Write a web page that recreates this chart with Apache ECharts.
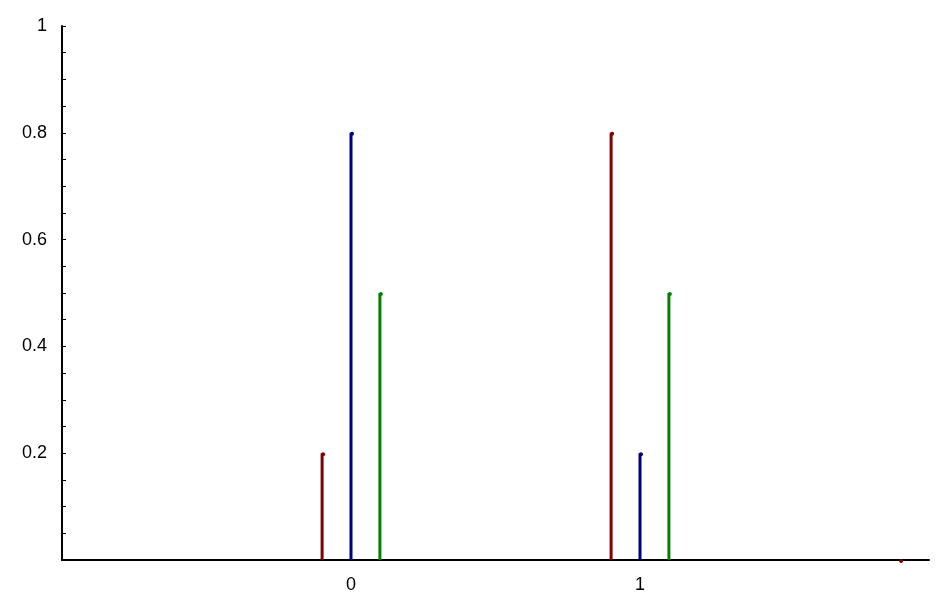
<!DOCTYPE html>
<html>
<head>
  <meta charset="utf-8">
  <title>Stem plot</title>
  <script src="https://cdn.jsdelivr.net/npm/echarts@6.0.0/dist/echarts.min.js"></script>
  <style>
    html, body { margin: 0; padding: 0; background: #fff; }
    #graph { width: 947px; height: 596px; }
  </style>
</head>
<body>
  <div id="graph"></div>

  <script>
    // stem data
    var redX = [-0.1, 0.9, 1.9];
    var redY = [0.2, 0.8, 0];
    var blueX = [0, 1];
    var blueY = [0.8, 0.2];
    var greenX = [0.1, 1.1];
    var greenY = [0.5, 0.5];

    var xLabels = [0, 1];
    var yLabels = [0.2, 0.4, 0.6, 0.8, 1];

    function pairs(xs, ys) {
      return xs.map(function (x, i) { return [x, ys[i]]; });
    }

    function stemSeries(name, color, data) {
      return {
        name: name,
        type: 'custom',
        data: data,
        renderItem: function (params, api) {
          var top = api.coord([api.value(0), api.value(1)]);
          var base = api.coord([api.value(0), 0]);
          return {
            type: 'group',
            children: [{
              type: 'line',
              shape: { x1: base[0], y1: base[1], x2: top[0], y2: top[1] },
              style: { stroke: color, lineWidth: 3 }
            }, {
              type: 'circle',
              shape: { cx: top[0] + 1, cy: top[1] + 1, r: 2 },
              style: { fill: color }
            }]
          };
        }
      };
    }

    var myChart = echarts.init(document.getElementById('graph'));

    var labelFont = { color: '#000', fontSize: 18, fontFamily: 'Liberation Sans, Arial, sans-serif' };

    var option = {
      animation: false,
      grid: { left: 62, right: 18, top: 26, bottom: 36, containLabel: false },
      xAxis: {
        type: 'value',
        min: -1,
        max: 2,
        interval: 1,
        splitLine: { show: false },
        axisTick: { show: false },
        axisLine: { onZero: false, lineStyle: { color: '#000', width: 2 } },
        axisLabel: Object.assign({
          margin: 16,
          showMinLabel: false,
          showMaxLabel: false,
          formatter: function (v) {
            return xLabels.indexOf(v) >= 0 ? String(v) : '';
          }
        }, labelFont)
      },
      yAxis: {
        type: 'value',
        min: 0,
        max: 1,
        interval: 0.2,
        splitLine: { show: false },
        axisLine: { show: true, onZero: false, lineStyle: { color: '#000', width: 2 } },
        axisTick: { show: true, inside: true, length: 4, lineStyle: { color: '#000', width: 1 } },
        minorTick: { show: true, splitNumber: 4, length: 4, lineStyle: { color: '#000', width: 1 } },
        axisLabel: Object.assign({
          margin: 15,
          formatter: function (v) {
            var r = Math.round(v * 10) / 10;
            return yLabels.indexOf(r) >= 0 ? String(r) : '';
          }
        }, labelFont)
      },
      series: [
        stemSeries('red', '#800000', pairs(redX, redY)),
        stemSeries('blue', '#000080', pairs(blueX, blueY)),
        stemSeries('green', '#008000', pairs(greenX, greenY))
      ]
    };

    myChart.setOption(option);
  </script>
</body>
</html>
